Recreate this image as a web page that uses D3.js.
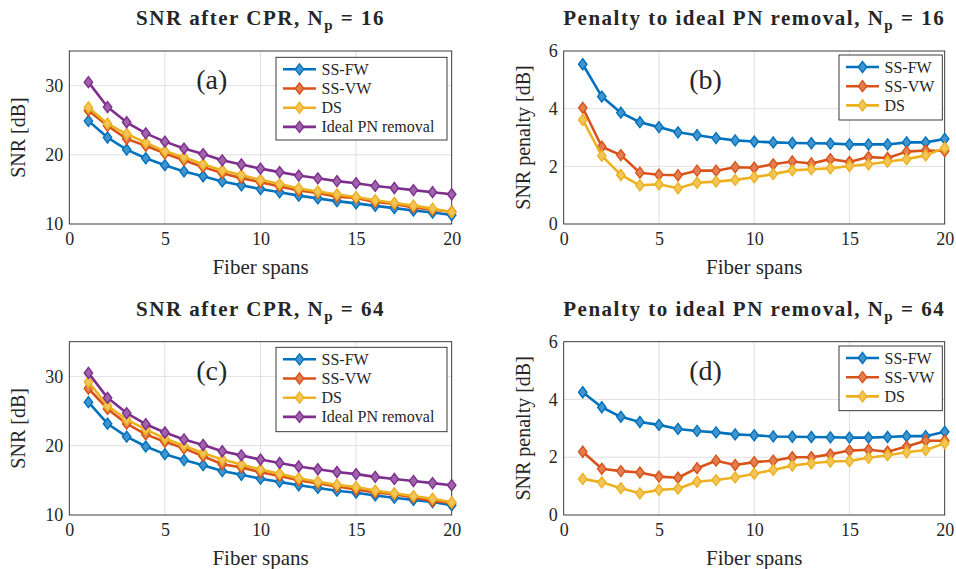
<!DOCTYPE html>
<html><head><meta charset="utf-8">
<script src="https://cdn.jsdelivr.net/npm/d3@7"></script>
<style>
body{margin:0;background:#fff;}
svg{display:block;}
text{font-family:"Liberation Serif","DejaVu Serif",serif;fill:#262626;}
</style></head>
<body>
<svg id="c" width="956" height="569"></svg>
<script>
const spans = d3.range(1, 21);
const xTicks = [0, 5, 10, 15, 20];
const snrTicks = [10, 20, 30];
const penTicks = [0, 2, 4, 6];
const seriesNames = ["SS-FW", "SS-VW", "DS", "Ideal PN removal"];
const colors = ["#0072BD", "#D95319", "#EDB120", "#7E2F8E"];

// Np = 16
const snr16_FW  = [24.9, 22.5, 20.75, 19.5, 18.5, 17.6, 16.9, 16.15, 15.6, 15.05, 14.58, 14.1, 13.7, 13.3, 12.98, 12.62, 12.3, 11.95, 11.65, 11.3];
const snr16_VW  = [26.4, 24.2, 22.3, 21.3, 20.2, 19.2, 18.25, 17.35, 16.63, 16.05, 15.43, 14.83, 14.5, 13.95, 13.75, 13.18, 12.91, 12.39, 12.05, 11.77];
const snr16_DS  = [26.85, 24.5, 23.0, 21.75, 20.5, 19.65, 18.65, 17.75, 17.07, 16.38, 15.77, 15.14, 14.7, 14.27, 13.89, 13.43, 13.04, 12.65, 12.22, 11.7];
const snrIdeal  = [30.5, 26.9, 24.7, 23.1, 21.9, 20.9, 20.1, 19.2, 18.6, 18.0, 17.5, 17.0, 16.6, 16.2, 15.9, 15.5, 15.2, 14.9, 14.6, 14.3];
const pen16_FW  = [5.54, 4.42, 3.86, 3.53, 3.36, 3.18, 3.08, 2.98, 2.90, 2.86, 2.83, 2.81, 2.80, 2.79, 2.76, 2.76, 2.76, 2.83, 2.83, 2.95];
const pen16_VW  = [4.03, 2.68, 2.39, 1.78, 1.71, 1.69, 1.85, 1.85, 1.97, 1.95, 2.07, 2.17, 2.10, 2.25, 2.15, 2.32, 2.29, 2.51, 2.55, 2.53];
const pen16_DS  = [3.61, 2.37, 1.70, 1.34, 1.38, 1.24, 1.43, 1.47, 1.53, 1.62, 1.73, 1.86, 1.90, 1.93, 2.01, 2.07, 2.16, 2.25, 2.38, 2.64];

// Np = 64
const snr64_FW  = [26.27, 23.17, 21.3, 19.88, 18.78, 17.92, 17.19, 16.34, 15.81, 15.24, 14.78, 14.29, 13.9, 13.51, 13.22, 12.82, 12.5, 12.17, 11.87, 11.42];
const snr64_VW  = [28.25, 25.3, 23.18, 21.63, 20.57, 19.61, 18.48, 17.32, 16.87, 16.17, 15.62, 15.0, 14.6, 14.1, 13.67, 13.24, 13.01, 12.53, 12.03, 11.73];
const snr64_DS  = [29.2, 25.77, 23.77, 22.35, 21.03, 19.99, 18.95, 17.99, 17.3, 16.57, 15.94, 15.29, 14.81, 14.35, 14.03, 13.52, 13.13, 12.73, 12.35, 11.82];
const pen64_FW  = [4.25, 3.73, 3.40, 3.22, 3.12, 2.98, 2.91, 2.86, 2.79, 2.76, 2.72, 2.71, 2.70, 2.69, 2.68, 2.68, 2.70, 2.73, 2.73, 2.88];
const pen64_VW  = [2.19, 1.60, 1.52, 1.47, 1.33, 1.29, 1.62, 1.88, 1.73, 1.83, 1.88, 2.00, 2.00, 2.10, 2.23, 2.26, 2.19, 2.37, 2.57, 2.57];
const pen64_DS  = [1.25, 1.13, 0.93, 0.75, 0.87, 0.91, 1.15, 1.21, 1.30, 1.43, 1.56, 1.71, 1.79, 1.85, 1.87, 1.98, 2.07, 2.17, 2.25, 2.48];

const panels = [
  {title:["SNR after CPR, N","p"," = 16"], tag:"(a)", ylab:"SNR [dB]", yd:[10,35], yt:snrTicks,
   series:[snr16_FW, snr16_VW, snr16_DS, snrIdeal], x0:69.3, x1:451.7, y0:51, y1:224,
   leg:{x:276, y:57.3, w:171, h:82.7}},
  {title:["Penalty to ideal PN removal, N","p"," = 16"], tag:"(b)", ylab:"SNR penalty [dB]", yd:[0,6], yt:penTicks,
   series:[pen16_FW, pen16_VW, pen16_DS], x0:563.7, x1:944.7, y0:51, y1:224,
   leg:{x:839, y:55, w:103.3, h:65}},
  {title:["SNR after CPR, N","p"," = 64"], tag:"(c)", ylab:"SNR [dB]", yd:[10,35], yt:snrTicks,
   series:[snr64_FW, snr64_VW, snr64_DS, snrIdeal], x0:69.3, x1:451.7, y0:341.7, y1:515,
   leg:{x:276, y:347.3, w:171, h:84.4}},
  {title:["Penalty to ideal PN removal, N","p"," = 64"], tag:"(d)", ylab:"SNR penalty [dB]", yd:[0,6], yt:penTicks,
   series:[pen64_FW, pen64_VW, pen64_DS], x0:563.7, x1:944.7, y0:341.7, y1:515,
   leg:{x:839, y:346, w:103.3, h:64.7}}
];

const svg = d3.select("#c");
const diamond = (cx, cy, w=4.2, h=5.5) => `M${cx},${cy-h}L${cx+w},${cy}L${cx},${cy+h}L${cx-w},${cy}Z`;

panels.forEach(p => {
  const g = svg.append("g");
  const x = d3.scaleLinear().domain([0,20]).range([p.x0, p.x1]);
  const y = d3.scaleLinear().domain(p.yd).range([p.y1, p.y0]);
  // grid
  g.append("g").selectAll("line").data(xTicks.slice(1,-1)).join("line")
    .attr("x1", d=>x(d)).attr("x2", d=>x(d)).attr("y1", p.y0).attr("y2", p.y1)
    .attr("stroke", "#e0e0e0").attr("stroke-width", 1);
  g.append("g").selectAll("line").data(p.yt.filter(t=>t>p.yd[0] && t<p.yd[1])).join("line")
    .attr("x1", p.x0).attr("x2", p.x1).attr("y1", d=>y(d)).attr("y2", d=>y(d))
    .attr("stroke", "#e0e0e0").attr("stroke-width", 1);
  // axes via d3 axis
  const xa = g.append("g").attr("transform", `translate(0,${p.y1})`)
    .call(d3.axisBottom(x).tickValues(xTicks).tickSize(0).tickPadding(8).tickFormat(d3.format("d")));
  const ya = g.append("g").attr("transform", `translate(${p.x0},0)`)
    .call(d3.axisLeft(y).tickValues(p.yt).tickSize(0).tickPadding(6).tickFormat(d3.format("d")));
  [xa, ya].forEach(a => {
    a.select(".domain").remove();
    a.selectAll("text").attr("font-size", 18).attr("fill", "#262626");
  });
  // box
  g.append("rect").attr("x", p.x0).attr("y", p.y0).attr("width", p.x1-p.x0).attr("height", p.y1-p.y0)
    .attr("fill", "none").attr("stroke", "#262626").attr("stroke-width", 0.9);
  // series
  const line = d3.line().x((d,i)=>x(spans[i])).y(d=>y(d));
  p.series.forEach((s, k) => {
    const col = colors[k];
    g.append("path").datum(s).attr("d", line).attr("fill", "none")
      .attr("stroke", col).attr("stroke-width", 2.6).attr("stroke-linejoin", "round");
    g.append("g").selectAll("path").data(s).join("path")
      .attr("d", (d,i)=>diamond(x(spans[i]), y(d)))
      .attr("fill", d3.interpolateRgb(col, "#ffffff")(0.25)).attr("stroke", col).attr("stroke-width", 1.4);
  });
  // tag
  g.append("text").attr("x", x(7.45)).attr("y", (p.y0)+38).attr("text-anchor", "middle")
    .attr("font-size", 28).text(p.tag);
  // title
  const t = g.append("text").attr("x", (p.x0+p.x1)/2).attr("y", p.y0 - 26).attr("text-anchor", "middle")
    .attr("font-weight", "bold").attr("font-size", 21).attr("letter-spacing", 1.5).attr("fill", "#111");
  t.append("tspan").text(p.title[0]);
  t.append("tspan").attr("font-size", 15).attr("dy", 5).text(p.title[1]);
  t.append("tspan").attr("dy", -5).text(p.title[2]);
  // axis labels
  g.append("text").attr("x", (p.x0+p.x1)/2).attr("y", p.y1 + 50).attr("text-anchor", "middle")
    .attr("font-size", 21).text("Fiber spans");
  const lx = p.x0 < 100 ? 25 : 530;
  g.append("text").attr("transform", `translate(${lx},${(p.y0+p.y1)/2}) rotate(-90)`).attr("text-anchor", "middle")
    .attr("font-size", 20).text(p.ylab);
  // legend
  const L = p.leg;
  g.append("rect").attr("x", L.x).attr("y", L.y).attr("width", L.w).attr("height", L.h)
    .attr("fill", "#fff").attr("stroke", "#262626").attr("stroke-width", 0.9);
  p.series.forEach((s, k) => {
    const yy = L.y + 12 + k*19.2;
    const col = colors[k];
    g.append("line").attr("x1", L.x+7).attr("x2", L.x+40).attr("y1", yy).attr("y2", yy)
      .attr("stroke", col).attr("stroke-width", 2.6);
    g.append("path").attr("d", diamond(L.x+23.5, yy))
      .attr("fill", d3.interpolateRgb(col, "#ffffff")(0.25)).attr("stroke", col).attr("stroke-width", 1.4);
    g.append("text").attr("x", L.x+45.5).attr("y", yy+5.5).attr("font-size", 16).text(seriesNames[k]);
  });
});
</script>
</body></html>
